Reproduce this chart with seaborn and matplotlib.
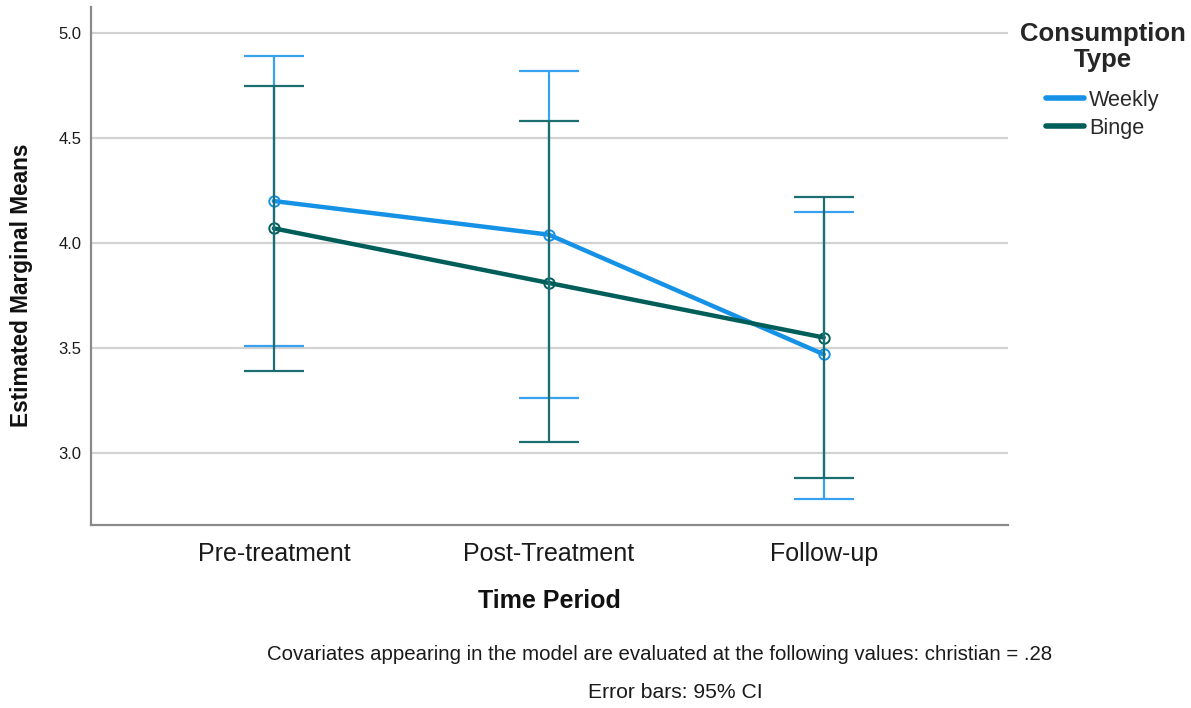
import matplotlib
matplotlib.use("Agg")
import matplotlib.pyplot as plt
from matplotlib.lines import Line2D
import seaborn as sns
import pandas as pd

# Estimated marginal means with 95% CI bounds
periods = ["Pre-treatment", "Post-Treatment", "Follow-up"]
groups = ["Weekly", "Binge"]
weekly_mean = [4.20, 4.04, 3.47]
weekly_lower = [3.51, 3.26, 2.78]
weekly_upper = [4.89, 4.82, 4.15]
binge_mean = [4.07, 3.81, 3.55]
binge_lower = [3.39, 3.05, 2.88]
binge_upper = [4.75, 4.58, 4.22]
y_ticks = [3.0, 3.5, 4.0, 4.5, 5.0]

line_colors = {"Weekly": "#1592e6", "Binge": "#005e5a"}
bar_colors = {"Weekly": "#38a2ee", "Binge": "#1c6e70"}

rows = []
for g, means, lo, hi in [("Weekly", weekly_mean, weekly_lower, weekly_upper),
                         ("Binge", binge_mean, binge_lower, binge_upper)]:
    for i, p in enumerate(periods):
        rows.append({"pos": i, "period": p, "group": g,
                     "mean": means[i], "lower": lo[i], "upper": hi[i]})
df = pd.DataFrame(rows)

sns.set_theme(style="white")
plt.rcParams["font.family"] = ["Liberation Sans", "DejaVu Sans"]

fig = plt.figure(figsize=(11.91, 7.08), dpi=100)
ax = fig.add_axes([0.0764, 0.2585, 0.8463 - 0.0764, 0.990 - 0.2585])

# grid lines
for t in y_ticks:
    ax.axhline(t, color="#d2d2d2", lw=1.6, zorder=0)

sns.lineplot(data=df, x="pos", y="mean", hue="group", hue_order=groups,
             palette=line_colors, lw=3.2, ax=ax, legend=False, zorder=3,
             estimator=None, sort=False)

for g in groups:
    sub = df[df["group"] == g]
    ax.plot(sub["pos"], sub["mean"], ls="none", marker="o", ms=7.5,
            mfc="none", mec=line_colors[g], mew=1.4, zorder=4)

for g in groups:
    sub = df[df["group"] == g]
    ax.errorbar(sub["pos"], sub["mean"],
                yerr=[sub["mean"] - sub["lower"], sub["upper"] - sub["mean"]],
                fmt="none", ecolor=bar_colors[g], elinewidth=1.6,
                capsize=21.5, capthick=1.6, zorder=5)

ax.set_xlim(-0.665, 2.67)
ax.set_ylim(2.657, 5.124)
ax.set_xticks(range(len(periods)))
ax.set_xticklabels(periods)
ax.set_yticks(y_ticks)
ax.set_yticklabels([f"{t:.1f}" for t in y_ticks])
ax.tick_params(axis="x", length=0, pad=12, labelsize=18, colors="#1a1a1a")
ax.tick_params(axis="y", length=0, pad=7, labelsize=12, colors="#1a1a1a")

for side in ["top", "right"]:
    ax.spines[side].set_visible(False)
for side in ["left", "bottom"]:
    ax.spines[side].set_color("#8a8a8a")
    ax.spines[side].set_linewidth(1.6)

ax.set_xlabel("")
ax.set_ylabel("")

fig.text(549 / 1191, 1 - 601 / 708, "Time Period", ha="center", va="center",
         fontsize=18, fontweight="bold", color="#111111")
fig.text(22 / 1191, 1 - 285 / 708, "Estimated Marginal Means", ha="center",
         va="center", rotation=90, fontsize=16.3, fontweight="bold",
         color="#111111")

fig.text(660 / 1191, 1 - 654 / 708,
         "Covariates appearing in the model are evaluated at the following values: christian = .28",
         ha="center", va="center", fontsize=14.7, color="#1a1a1a")
fig.text(675 / 1191, 1 - 693 / 708, "Error bars: 95% CI", ha="center",
         va="center", fontsize=15.2, color="#1a1a1a")

handles = [Line2D([0], [0], color=line_colors[g], lw=4) for g in groups]
leg = fig.legend(handles, groups, title="Consumption\nType",
                 loc="upper left", bbox_to_anchor=(1020 / 1191, 1 - 22 / 708),
                 frameon=False, fontsize=15.6, title_fontsize=18.5,
                 handlelength=1.75, handletextpad=0.25, labelspacing=0.32,
                 borderpad=0, borderaxespad=0)
leg.get_title().set_fontweight("bold")
leg.get_title().set_multialignment("center")
leg.get_title().set_linespacing(1.1)
leg._legend_box.align = "center"
leg._legend_box.sep = 13
for t in leg.get_texts():
    t.set_color("#2a2a2a")

fig.savefig("out.png", dpi=100)
